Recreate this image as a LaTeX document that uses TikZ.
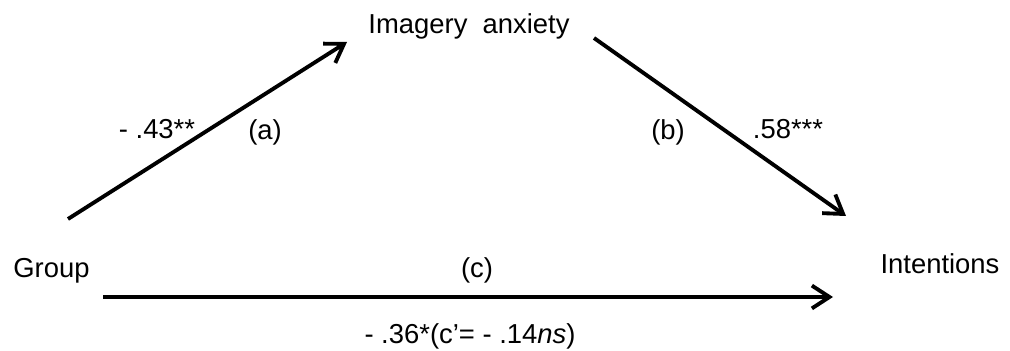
\documentclass[tikz,border=0pt]{standalone}
\usepackage{fontspec}
\setmainfont{Liberation Sans}
\usetikzlibrary{arrows.meta, positioning}

\begin{document}
\begin{tikzpicture}[x=0.02cm, y=-0.02cm,
        var/.style={inner sep=0pt, font=\fontsize{15.6}{19}\selectfont},
        lbl/.style={inner sep=0pt, font=\fontsize{15.6}{19}\selectfont},
        arr/.style={-{Straight Barb[length=10pt, width=13pt, line width=2.2pt]}, line width=2.2pt}
    ]
        \useasboundingbox (0,0) rectangle (1010,351);

        % Variables
        \node[var] (img) at (469,26.5) {Imagery\ \ anxiety};
        \node[var] (grp) at (51.5,271) {Group};
        \node[var] (int) at (940,264) {Intentions};

        % Path ends
        \coordinate (aS) at (68,219);
        \coordinate (aE) at (347,42);
        \coordinate (bS) at (594,38);
        \coordinate (bE) at (846,216);
        \coordinate (cS) at (103,297);
        \coordinate (cE) at (833,297);

        \draw[arr] (aS) -- (aE);
        \draw[arr] (bS) -- (bE);
        \draw[arr] (cS) -- (cE);

        % Coefficients
        \node[lbl] (ca) at (157,129) {- .43**};
        \node[lbl] (la) at (265,132) {(a)};
        \node[lbl] (lb) at (668,132) {(b)};
        \node[lbl] (cb) at (788,129) {.58***};
        \node[lbl] (lc) at (477,270) {(c)};
        \node[lbl] (cc) at (470,336) {- .36*(c’= - .14\textit{ns})};
    \end{tikzpicture}
\end{document}
